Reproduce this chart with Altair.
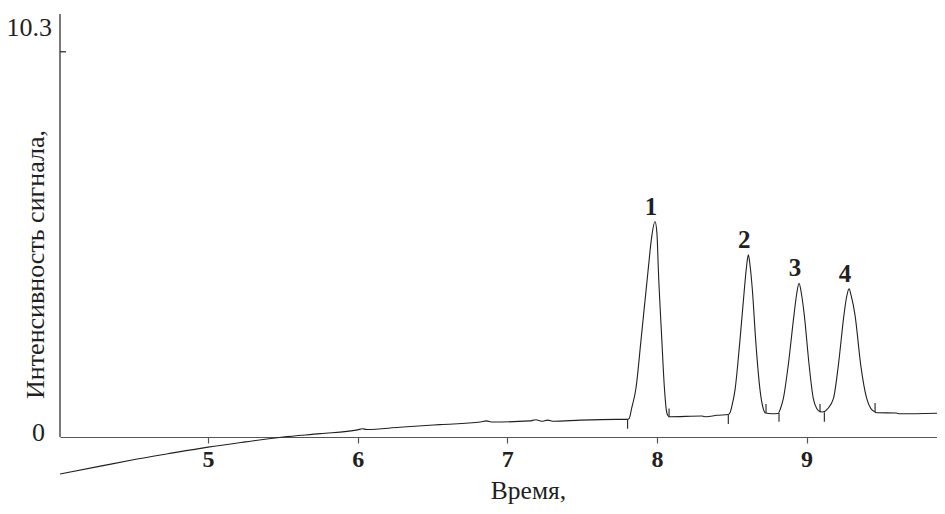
import altair as alt
import pandas as pd

# ---- data ----
curve_x = [4.01, 4.28, 4.50, 4.73, 5.00, 5.25, 5.50, 5.75, 6.00, 6.03, 6.06, 6.28, 6.55,
           6.82, 6.86, 6.90, 7.15, 7.19, 7.23, 7.27, 7.31, 7.49, 7.73, 7.80,
           7.815, 7.83, 7.86, 7.895, 7.94, 7.965, 7.987, 8.00, 8.01, 8.032, 8.05, 8.061, 8.072, 8.085,
           8.30, 8.33, 8.40, 8.477,
           8.49, 8.50, 8.522, 8.555, 8.584, 8.60, 8.611, 8.622, 8.638, 8.66, 8.689, 8.711, 8.725, 8.77, 8.81,
           8.825, 8.845, 8.878, 8.916, 8.935, 8.95, 8.965, 8.985, 9.017, 9.045, 9.07, 9.09, 9.105,
           9.12, 9.14, 9.18, 9.213, 9.25, 9.268, 9.284, 9.30, 9.324, 9.362, 9.402, 9.43, 9.446, 9.47,
           9.60, 9.62, 9.93]
curve_y = [-0.99, -0.78, -0.61, -0.45, -0.27, -0.13, 0.00, 0.09, 0.19, 0.22, 0.20, 0.26, 0.33,
           0.40, 0.43, 0.40, 0.43, 0.46, 0.42, 0.45, 0.42, 0.45, 0.47, 0.47,
           0.50, 0.75, 1.31, 2.65, 4.42, 5.35, 5.76, 5.45, 4.42, 2.65, 1.31, 0.78, 0.58, 0.54,
           0.56, 0.54, 0.58, 0.60,
           0.66, 0.81, 1.26, 2.59, 3.93, 4.60, 4.87, 4.60, 3.93, 2.59, 1.26, 0.75, 0.64, 0.62, 0.63,
           0.75, 1.03, 1.93, 3.26, 3.85, 4.11, 3.85, 3.26, 1.93, 1.03, 0.75, 0.68, 0.67,
           0.68, 0.75, 1.03, 1.93, 3.26, 3.75, 3.96, 3.75, 3.26, 1.93, 1.03, 0.76, 0.70, 0.65,
           0.64, 0.62, 0.64]

peak_labels = ["1", "2", "3", "4"]
peak_x = [7.987, 8.611, 8.95, 9.284]
peak_y = [5.76, 4.87, 4.11, 3.96]

marker_x = [7.804, 8.081, 8.477, 8.729, 8.816, 9.090, 9.119, 9.458]
marker_y1 = [0.47, 0.53, 0.59, 0.64, 0.64, 0.66, 0.66, 0.66]
marker_y2 = [0.22, 0.76, 0.35, 0.88, 0.41, 0.88, 0.41, 0.91]

x_ticks = [5, 6, 7, 8, 9]
x_title = "Время,"
y_title = "Интенсивность сигнала,"
y_top_value = 10.3
y_top_label = "10.3"
y_zero_value = 0
y_zero_label = "0"

# ---- layout ----
INK = "#231f20"
FONT = "Liberation Serif"
X_DOMAIN = [4.01, 9.872]
Y_DOMAIN = [-1.15, 11.31]
W, H = 877, 466
ZERO_PX = 423  # pixel row of y = 0 inside the plot (from the domain above)

curve = pd.DataFrame({"x": curve_x, "y": curve_y})
peaks = pd.DataFrame({"x": peak_x, "y": peak_y, "label": peak_labels})
markers = pd.DataFrame({"x": marker_x, "y": marker_y1, "y2": marker_y2})
ytop = pd.DataFrame({"y": [y_top_value], "label": [y_top_label]})
yzero = pd.DataFrame({"y": [y_zero_value], "label": [y_zero_label]})

xscale = alt.Scale(domain=X_DOMAIN, nice=False, zero=False)
yscale = alt.Scale(domain=Y_DOMAIN, nice=False, zero=False)

line = alt.Chart(curve).mark_line(
    color=INK, strokeWidth=1.1, interpolate="monotone", clip=True
).encode(
    x=alt.X("x:Q", scale=xscale,
            axis=alt.Axis(values=x_ticks, format="d", offset=-43, grid=False,
                          domainColor="#555555", tickColor="#555555", tickSize=6,
                          domainWidth=1.2, tickWidth=1.2,
                          labelFont=FONT, labelFontSize=24, labelFontWeight="bold",
                          labelColor=INK, labelPadding=4,
                          title=x_title, titleFont=FONT, titleFontSize=25.5,
                          titleFontWeight="normal", titleColor=INK,
                          titleX=468, titleY=61, titleAlign="center",
                          titleBaseline="alphabetic")),
    y=alt.Y("y:Q", scale=yscale,
            axis=alt.Axis(domain=False, ticks=False, labels=False, grid=False,
                          title=y_title, titleFont=FONT, titleFontSize=26,
                          titleFontWeight="normal", titleColor=INK,
                          titleAngle=270, titleX=-25, titleY=250,
                          titleAlign="center", titleBaseline="middle")),
)

ticks = alt.Chart(markers).mark_rule(color=INK, strokeWidth=1.1).encode(
    x="x:Q", y="y:Q", y2="y2:Q"
)

labels = alt.Chart(peaks).mark_text(
    font=FONT, fontSize=25, fontWeight="bold", color=INK,
    dx=-4, dy=-15, baseline="middle", align="center"
).encode(x="x:Q", y="y:Q", text="label:N")

yaxis_line = alt.Chart(ytop).mark_rule(color=INK, strokeWidth=1.2).encode(
    x=alt.value(0), y=alt.value(0), y2=alt.value(ZERO_PX)
)
ytop_tick = alt.Chart(ytop).mark_rule(color=INK, strokeWidth=1.2).encode(
    x=alt.value(0), x2=alt.value(6), y="y:Q"
)
ytop_label = alt.Chart(ytop).mark_text(
    font=FONT, fontSize=26, fontWeight="normal", color=INK, align="right",
    baseline="middle", dy=-24
).encode(x=alt.value(-8), y="y:Q", text="label:N")
yzero_label = alt.Chart(yzero).mark_text(
    font=FONT, fontSize=26, fontWeight="normal", color=INK, align="right",
    baseline="middle", dy=-4
).encode(x=alt.value(-15), y="y:Q", text="label:N")

chart = alt.layer(
    line, ticks, labels, yaxis_line, ytop_tick, ytop_label, yzero_label
).properties(
    width=W, height=H,
    autosize=alt.AutoSizeParams(type="none"),
    padding={"left": 52, "top": 6, "right": 0, "bottom": 26},
).configure(background="white").configure_view(stroke=None, strokeWidth=0)

chart.save("out.html", embed_options={"renderer": "svg", "actions": False})
